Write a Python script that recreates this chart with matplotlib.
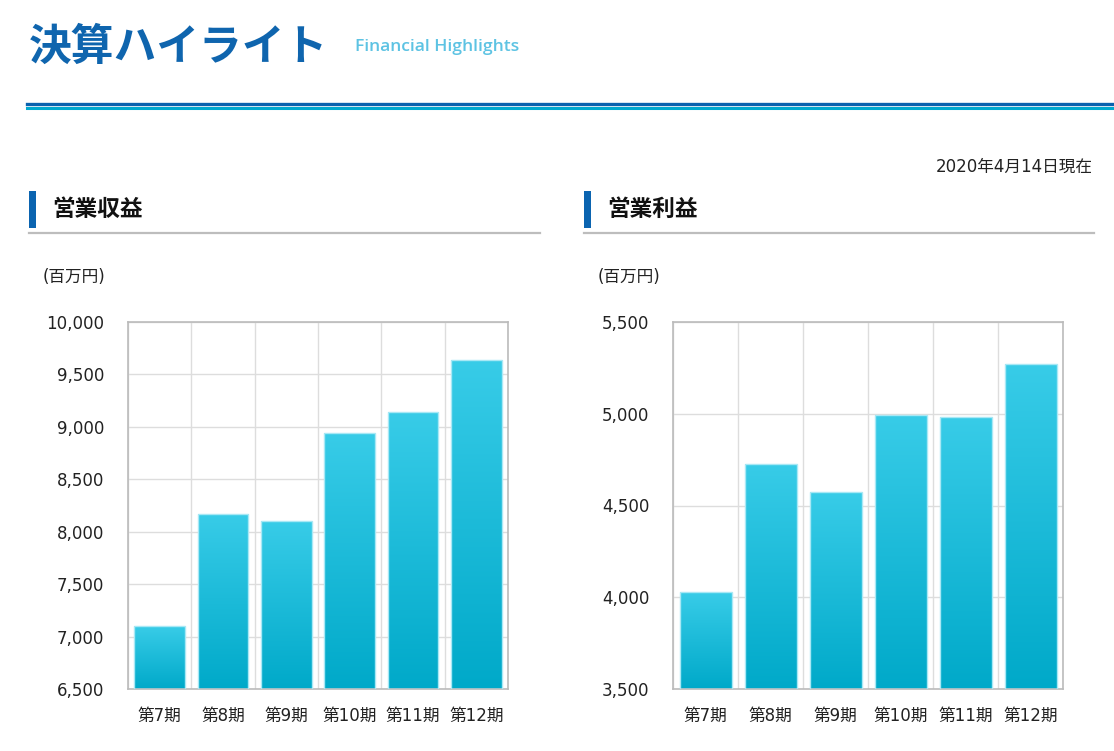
import matplotlib
matplotlib.use("Agg")
import matplotlib.pyplot as plt
import numpy as np
from matplotlib.colors import LinearSegmentedColormap
from matplotlib.patches import Rectangle
from matplotlib.lines import Line2D

FAM = ['DejaVu Sans', 'Noto Sans CJK JP']
plt.rcParams['font.family'] = FAM

# ---- data ----
periods = ["第7期", "第8期", "第9期", "第10期", "第11期", "第12期"]
revenue = [7100, 8170, 8100, 8940, 9140, 9640]
revenue_ticks = [6500, 7000, 7500, 8000, 8500, 9000, 9500, 10000]
profit = [4027, 4727, 4571, 4991, 4984, 5271]
profit_ticks = [3500, 4000, 4500, 5000, 5500]

title_jp = "決算ハイライト"
title_en = "Financial Highlights"
date_text = "2020年4月14日現在"
left_title = "営業収益"
right_title = "営業利益"
unit_text = "(百万円)"

W, H = 1114, 751
fig = plt.figure(figsize=(W / 100, H / 100), dpi=100)


def fx(px):
    return px / W


def fy(py):
    return 1 - py / H


# header
fig.text(fx(29), fy(47), title_jp, fontsize=30.8, fontweight='bold', color='#0F65AE',
         va='center', ha='left', family=['Noto Sans CJK JP'])
fig.text(fx(355), fy(47), title_en, fontsize=12.6, color='#5DC3E3', va='center', ha='left',
         family=['Open Sans', 'DejaVu Sans'], fontweight='semibold')
fig.add_artist(Line2D([fx(27), 1], [fy(103.5), fy(103.5)], color='#0A62AE', lw=2.4))
fig.add_artist(Line2D([fx(27), 1], [fy(107.5), fy(107.5)], color='#00A9CF', lw=2.2))
fig.text(fx(1093), fy(167), date_text, fontsize=12, color='#222222', va='center', ha='right')

cmap = LinearSegmentedColormap.from_list('bar', ['#00A9C9', '#38CCE8'])
grad = np.linspace(0, 1, 256).reshape(-1, 1)


def section(x0, x1, title):
    fig.add_artist(Rectangle((fx(x0), fy(228)), fx(7), fy(191) - fy(228),
                             facecolor='#0B64B0', edgecolor='none'))
    fig.text(fx(x0 + 23), fy(209), title, fontsize=16.3, fontweight='bold', color='#111111',
             va='center', ha='left', family=['Noto Sans CJK JP'])
    fig.add_artist(Line2D([fx(x0), fx(x1)], [fy(233), fy(233)], color='#BDBDBD', lw=1.6))


def chart(ax_px, values, ticks, unit_x):
    l, t, r, b = ax_px
    ax = fig.add_axes([fx(l), fy(b), fx(r - l), fy(t) - fy(b)])
    n = len(values)
    xs = np.arange(n)
    ymin, ymax = ticks[0], ticks[-1]
    w = 0.8
    heights = [v - ymin for v in values]
    bars = ax.bar(xs, heights, width=w, bottom=ymin, facecolor='none', edgecolor='#A8E8F5',
                  linewidth=1.0, zorder=3)
    for x, v, patch in zip(xs, values, bars.patches):
        im = ax.imshow(grad, extent=[x - w / 2, x + w / 2, ymin, v], aspect='auto', cmap=cmap,
                       origin='lower', zorder=2, interpolation='bilinear')
        im.set_clip_path(patch)
    ax.set_xlim(-0.5, n - 0.5)
    ax.set_ylim(ymin, ymax)
    ax.set_yticks(ticks)
    ax.set_yticklabels([f"{t:,}" for t in ticks])
    ax.set_xticks(xs)
    ax.set_xticklabels(periods)
    ax.set_xticks(np.arange(n + 1) - 0.5, minor=True)
    ax.grid(True, which='minor', axis='x', color='#DDDDDD', lw=1.0, zorder=0)
    ax.grid(True, which='major', axis='y', color='#DDDDDD', lw=1.0, zorder=0)
    ax.set_axisbelow(True)
    ax.tick_params(axis='both', which='both', length=0)
    ax.tick_params(axis='y', pad=17, labelsize=12, labelcolor='#222222')
    ax.tick_params(axis='x', pad=13, labelsize=12, labelcolor='#222222')
    for s in ax.spines.values():
        s.set_color('#BBBBBB')
        s.set_linewidth(1.2)
    fig.text(fx(unit_x), fy(277), unit_text, fontsize=12, color='#222222', va='center', ha='left')
    return ax


section(29, 540, left_title)
section(584, 1094, right_title)
chart((128, 322, 508, 689), revenue, revenue_ticks, 43)
chart((673, 322, 1063, 689), profit, profit_ticks, 598)

fig.savefig('out.png', dpi=100)
